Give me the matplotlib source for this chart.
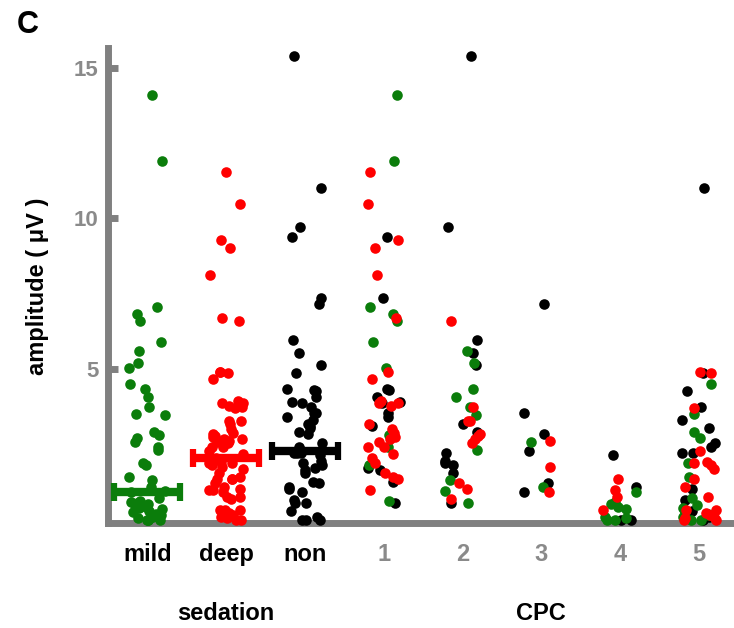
import numpy as np
import matplotlib
matplotlib.use('Agg')
import matplotlib.pyplot as plt
import matplotlib.transforms as mtransforms

plt.rcParams['font.family'] = ['Liberation Sans', 'DejaVu Sans']
plt.rcParams['font.weight'] = 'bold'

GREEN = '#0b7d0b'
RED = '#ff0000'
BLACK = '#000000'
GREY = '#808080'

# amplitude (uV) for CPC 1..5, split by sedation group
cpc_mild = [
    [14.1, 11.9, 7.05, 6.81, 6.59, 5.89, 5.04, 2.80, 2.42, 1.81, 0.62],
    [5.60, 5.19, 4.32, 4.08, 3.75, 3.47, 2.31, 1.31, 0.96, 0.54],
    [2.59, 1.07],
    [0.93, 0.59, 0.52, 0.43, 0.34, 0.10, 0.0, 0.0, 0.05],
    [4.50, 3.49, 2.92, 2.72, 1.87, 1.42, 0.73, 0.48, 0.37, 0.15, 0.0, 0.0,
     0.08, 0.20, 0.25, 0.30],
]
cpc_deep = [
    [11.55, 10.48, 9.27, 9.02, 8.13, 6.70, 4.91, 4.67, 3.94, 3.88, 3.86, 3.77,
     3.16, 3.00, 2.86, 2.75, 2.67, 2.57, 2.42, 2.40, 2.18, 2.03, 1.89, 1.54,
     1.40, 1.34, 0.98],
    [6.59, 3.75, 3.27, 3.27, 2.84, 2.77, 2.67, 2.53, 1.20, 1.00, 0.67],
    [2.62, 1.76, 0.91],
    [1.35, 0.98, 0.76, 0.32],
    [4.86, 4.91, 3.71, 2.28, 1.92, 1.87, 1.81, 1.67, 1.35, 1.07, 0.74, 0.32,
     0.32, 0.21, 0.15, 0.10, 0.04, 0.0, 0.0],
]
cpc_non = [
    [9.38, 7.34, 4.32, 4.30, 4.08, 3.91, 3.86, 3.53, 3.40, 3.12, 1.72, 1.65,
     1.24, 0.56],
    [15.4, 9.70, 5.96, 5.54, 5.13, 3.16, 2.92, 2.22, 1.94, 1.87, 1.81, 1.56,
     0.56],
    [7.15, 3.53, 2.83, 2.28, 1.20, 0.91],
    [2.15, 1.09, 0.0, 0.0],
    [11.0, 4.86, 4.27, 3.75, 3.31, 3.03, 2.55, 2.42, 2.22, 2.20, 1.00, 0.65,
     0.0, 0.10, 0.30],
]

group_median = [0.9, 2.03, 2.26]   # mild, deep, non
tick_labels = ['mild', 'deep', 'non', '1', '2', '3', '4', '5']
yticks = [5, 10, 15]

fig = plt.figure(figsize=(7.34, 6.28), dpi=100)
ax = fig.add_axes([108 / 734, 1 - 522.6 / 628, 626 / 734, 474.6 / 628])
ax.set_xlim(-0.5, 7.45)
ax.set_ylim(-0.1, 15.65)

rng = np.random.default_rng(7)


def jitter(n, w=0.23):
    return rng.uniform(-w, w, n)


dot = dict(s=58, linewidths=0, zorder=3, clip_on=False)

# sedation columns: every point of the group
sed_colors = [GREEN, RED, BLACK]
for pos, groups, col in zip(range(3), [cpc_mild, cpc_deep, cpc_non], sed_colors):
    vals = np.concatenate([np.asarray(g, float) for g in groups])
    ax.scatter(pos + jitter(len(vals)), vals, color=col, **dot)

# CPC columns, coloured by sedation (red drawn last)
for col, groups in [(BLACK, cpc_non), (GREEN, cpc_mild), (RED, cpc_deep)]:
    for k, vals in enumerate(groups):
        ax.scatter(3 + k + jitter(len(vals)), vals, color=col, **dot)

# median bars with end caps
for pos, m, col in zip(range(3), group_median, sed_colors):
    ax.plot([pos - 0.45, pos + 0.45], [m, m], color=col, lw=6,
            solid_capstyle='butt', zorder=4)
    ax.plot([pos - 0.42, pos + 0.42], [m, m], ls='none', marker='|',
            ms=13, mew=4.5, color=col, zorder=4)

for side in ['top', 'right']:
    ax.spines[side].set_visible(False)
for side in ['left', 'bottom']:
    ax.spines[side].set_color(GREY)
    ax.spines[side].set_linewidth(5)

ax.set_yticks(yticks)
ax.set_yticklabels([str(t) for t in yticks])
ax.tick_params(axis='y', direction='in', length=7, width=5, color=GREY,
               labelcolor='#8a8a8a', labelsize=16, pad=7)
ax.set_xticks(range(len(tick_labels)))
ax.set_xticklabels(tick_labels)
ax.tick_params(axis='x', length=0, labelsize=17, pad=15)
for i, lab in enumerate(ax.get_xticklabels()):
    lab.set_color(BLACK if i < 3 else '#8a8a8a')

trans = mtransforms.blended_transform_factory(ax.transData, fig.transFigure)
ax.text(1, 1 - 613 / 628, 'sedation', transform=trans, ha='center',
        va='center', fontsize=17)
ax.text(5, 1 - 613 / 628, 'CPC', transform=trans, ha='center',
        va='center', fontsize=17)

fig.text(38 / 734, 1 - 286 / 628, 'amplitude ( \u03bcV )', rotation=90,
         ha='center', va='center', fontsize=17)
fig.text(28 / 734, 1 - 25 / 628, 'C', ha='center', va='center', fontsize=22)

fig.savefig('out.png', dpi=100)
